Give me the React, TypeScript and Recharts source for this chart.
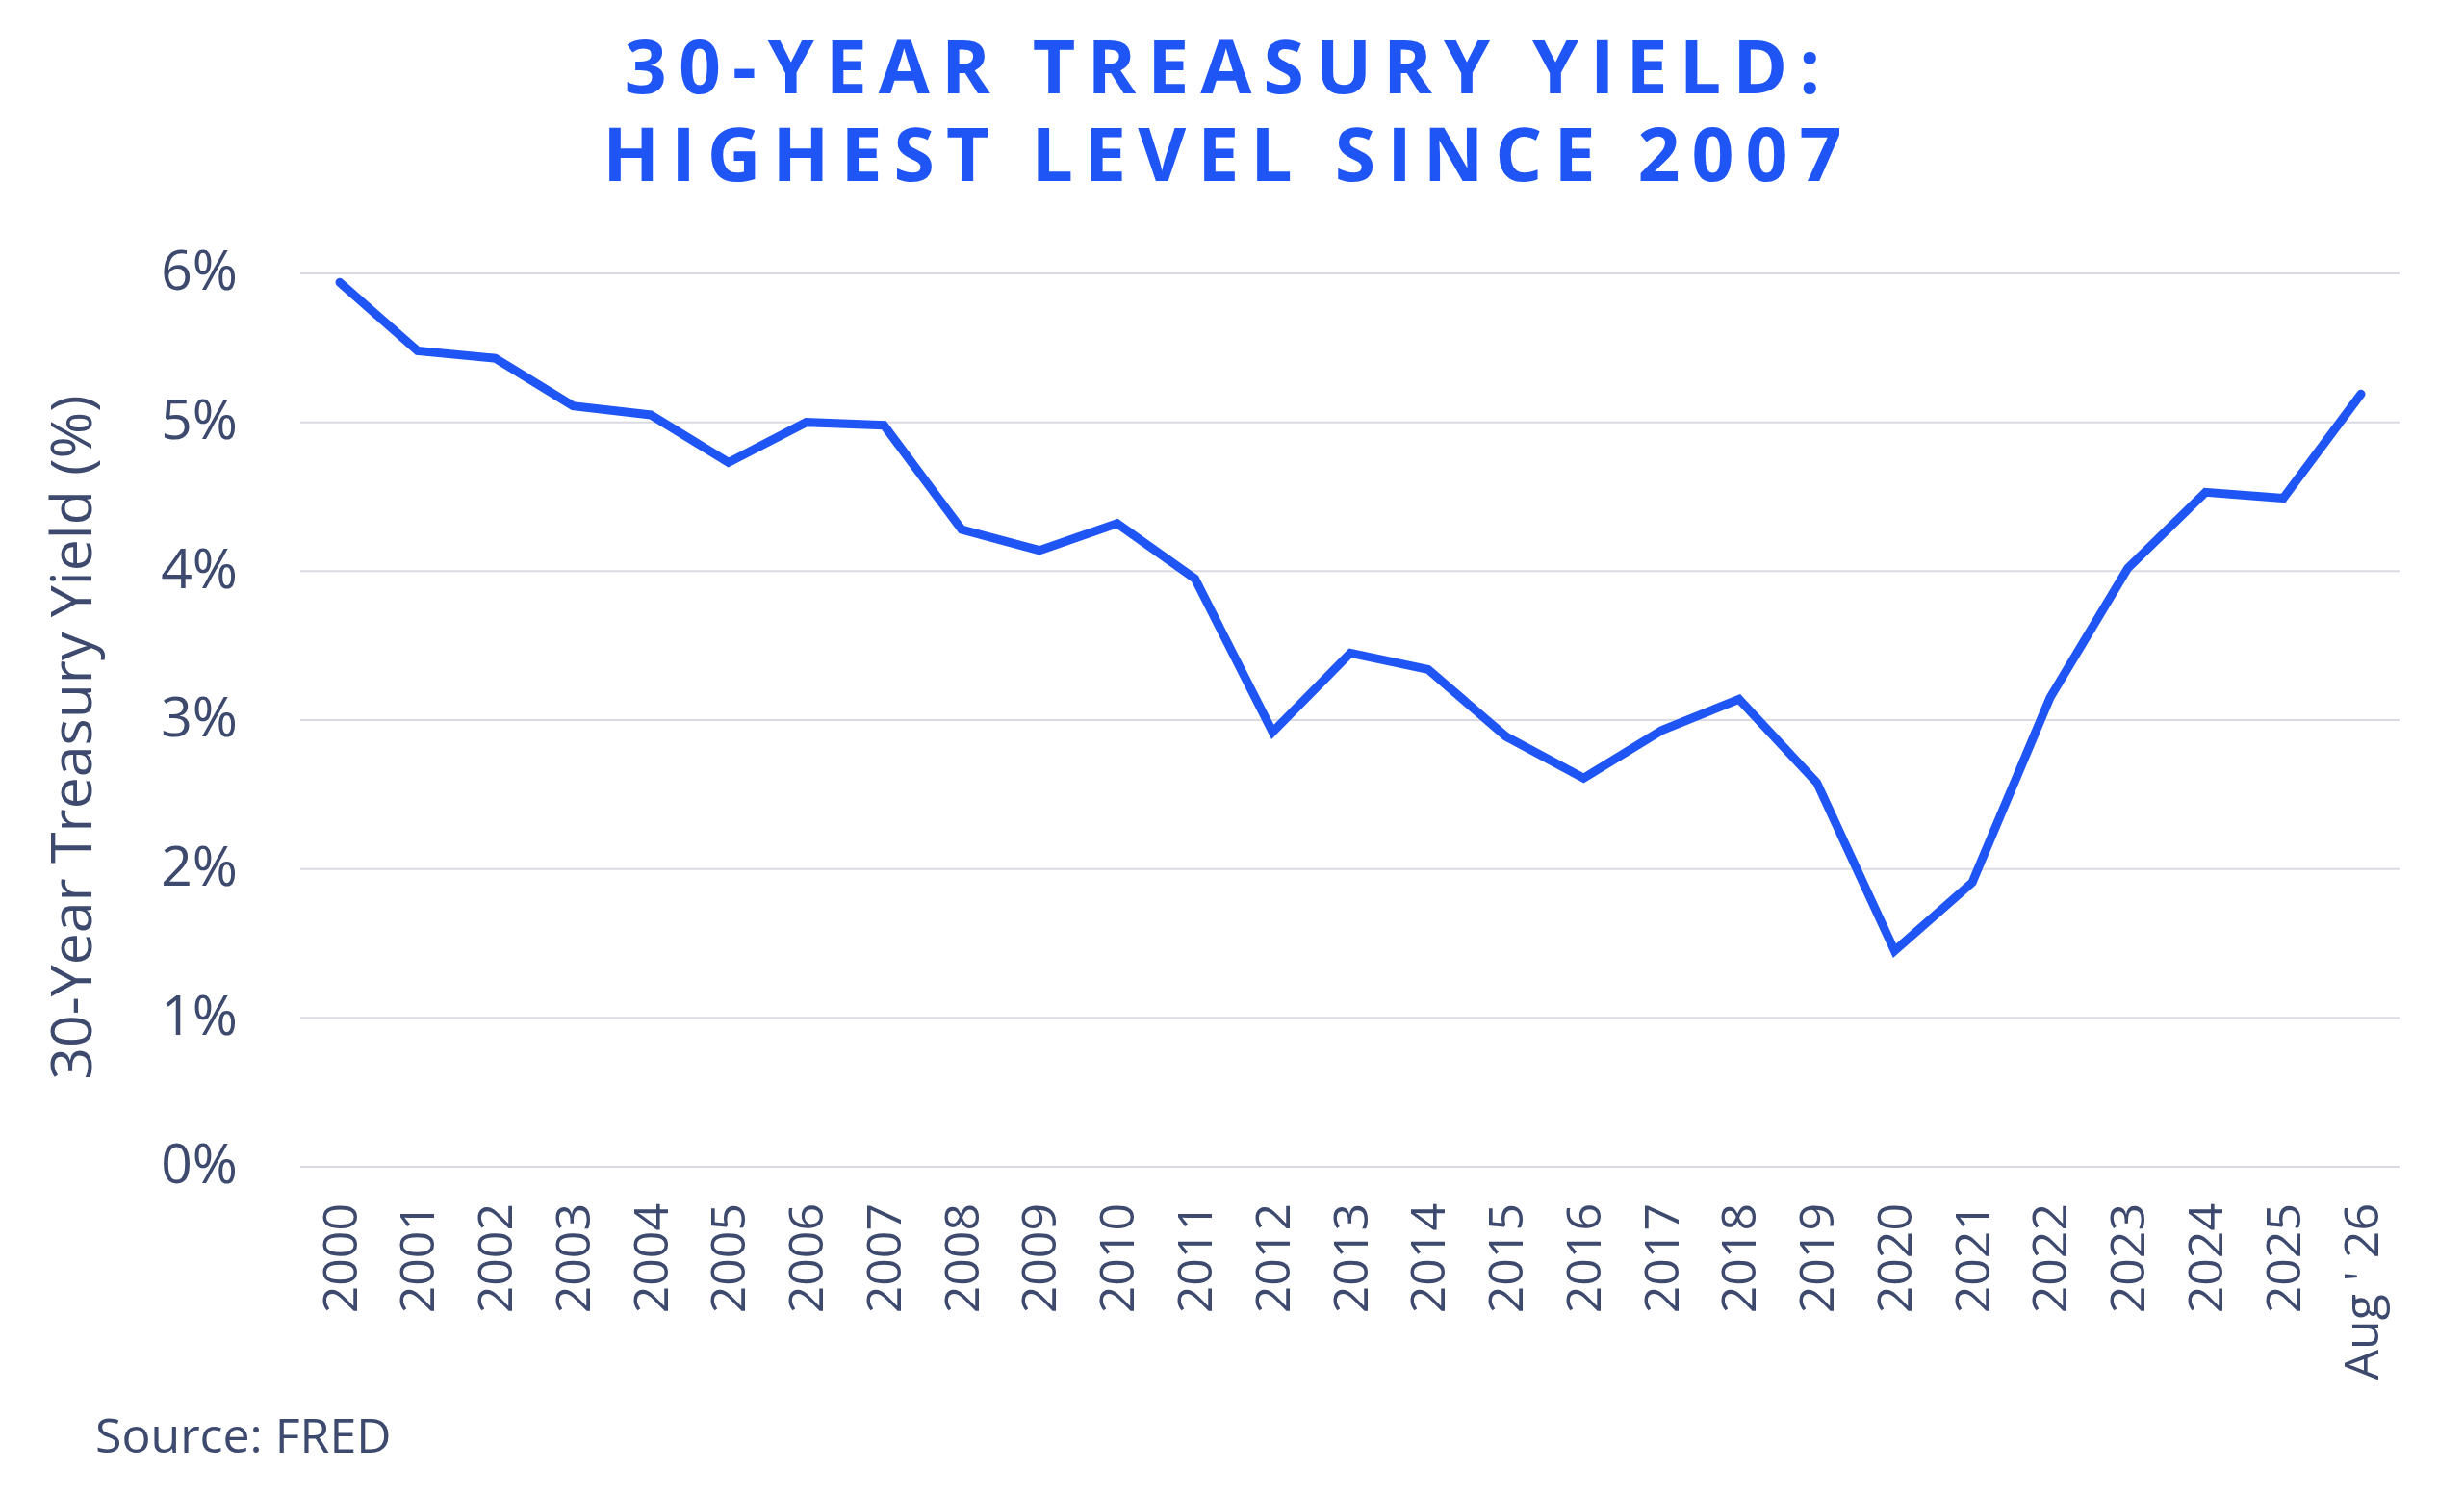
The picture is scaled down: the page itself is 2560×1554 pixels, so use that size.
import React from 'react';
import { LineChart, Line, XAxis, YAxis, CartesianGrid } from 'recharts';

const years = [
  '2000', '2001', '2002', '2003', '2004', '2005', '2006', '2007', '2008', '2009',
  '2010', '2011', '2012', '2013', '2014', '2015', '2016', '2017', '2018', '2019',
  '2020', '2021', '2022', '2023', '2024', '2025', "Aug ' 26",
];

const yields = [
  5.94, 5.48, 5.43, 5.11, 5.05, 4.73, 5.0, 4.98, 4.28, 4.14,
  4.32, 3.95, 2.92, 3.45, 3.34, 2.89, 2.61, 2.93, 3.14, 2.58,
  1.45, 1.91, 3.15, 4.02, 4.53, 4.49, 5.19,
];

const yTicks = [0, 1, 2, 3, 4, 5, 6];

const titleLines = ['30-YEAR TREASURY YIELD:', 'HIGHEST LEVEL SINCE 2007'];
const yAxisLabel = '30-Year Treasury Yield (%)';
const sourceText = 'Source: FRED';

const BLUE = '#1F55F5';
const INK = '#3D4A6E';
const FONT = '"Open Sans", sans-serif';

const chartData = years.map((year, i) => ({ year, value: yields[i] }));

// rotated year labels, reading bottom to top
const YearTick = ({ x, y, payload }: any) => (
  <text
    x={x}
    y={y}
    dy="0.35em"
    textAnchor="end"
    transform={`rotate(-90, ${x}, ${y})`}
    fill={INK}
    fontSize={50}
    fontFamily={FONT}
  >
    {payload.value}
  </text>
);

export default function App() {
  return (
    <div style={{ position: 'absolute', left: 0, top: 0, width: 2560, height: 1554, background: '#fff' }}>
      <LineChart
        width={2560}
        height={1554}
        data={chartData}
        margin={{ top: 284, right: 67, bottom: 42, left: 0 }}
      >
        <CartesianGrid vertical={false} stroke="#DADAE2" strokeWidth={2} />
        <XAxis
          dataKey="year"
          interval={0}
          axisLine={false}
          tickLine={false}
          tickSize={0}
          tickMargin={38}
          height={300}
          padding={{ left: 41, right: 40 }}
          tick={<YearTick />}
        />
        <YAxis
          domain={[0, 6]}
          ticks={yTicks}
          width={312}
          axisLine={false}
          tickLine={false}
          tickSize={0}
          tickMargin={65}
          tickFormatter={(v) => `${v}%`}
          tick={{ fill: INK, fontSize: 57, fontFamily: FONT, dy: -3 }}
        />
        <Line
          type="linear"
          dataKey="value"
          stroke={BLUE}
          strokeWidth={9}
          strokeLinecap="round"
          dot={false}
          activeDot={false}
          isAnimationActive={false}
        />
      </LineChart>

      <svg
        width={2560}
        height={1554}
        style={{ position: 'absolute', left: 0, top: 0, pointerEvents: 'none' }}
      >
        {titleLines.map((line, i) => (
          <text
            key={line}
            x={1276}
            y={97 + i * 91}
            textAnchor="middle"
            fill={BLUE}
            fontSize={77}
            fontWeight={700}
            fontFamily={FONT}
            letterSpacing={12}
          >
            {line}
          </text>
        ))}
        <text
          x={95}
          y={766}
          textAnchor="middle"
          transform="rotate(-90, 95, 766)"
          fill={INK}
          fontSize={59}
          fontFamily={FONT}
        >
          {yAxisLabel}
        </text>
        <text x={99} y={1509} fill={INK} fontSize={50} fontFamily={FONT}>
          {sourceText}
        </text>
      </svg>
    </div>
  );
}
